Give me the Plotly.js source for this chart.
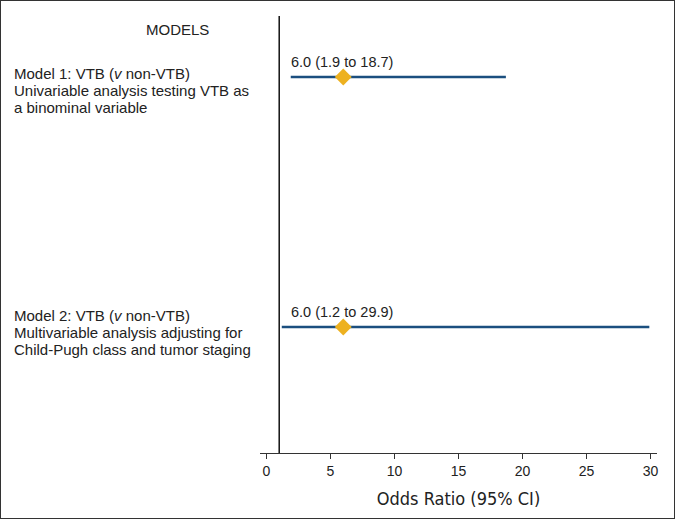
<!DOCTYPE html>
<html>
<head>
<meta charset="utf-8">
<script src="https://cdn.plot.ly/plotly-3.0.1.min.js"></script>
<style>
html,body{margin:0;padding:0;background:#fff;}
#wrap{width:675px;height:519px;box-sizing:border-box;border:1px solid #333;overflow:hidden;}
#chart{width:673px;height:517px;}
</style>
</head>
<body>
<div id="wrap"><div id="chart"></div></div>
<script>
// Data
const models = ["Model 1", "Model 2"];
const modelLines = [
  ["Model 1: VTB (<i>v</i> non-VTB)", "Univariable analysis testing VTB as", "a binominal variable"],
  ["Model 2: VTB (<i>v</i> non-VTB)", "Multivariable analysis adjusting for", "Child-Pugh class and tumor staging"]
];
const oddsRatio = [6.0, 6.0];
const ciLower = [1.9, 1.2];
const ciUpper = [18.7, 29.9];
const tickVals = [0, 5, 10, 15, 20, 25, 30];
const nullValue = 1;

const fontMain = "Liberation Sans, Arial, Helvetica, sans-serif";
const fontNarrow = "Liberation Sans Narrow, Arial Narrow, DejaVu Sans Condensed, sans-serif";
const textColor = "#222";

const trace = {
  type: "scatter",
  mode: "markers",
  x: oddsRatio,
  y: models,
  marker: {symbol: "diamond", size: 13, color: "#EDB120", line: {width: 0}},
  error_x: {
    type: "data",
    symmetric: false,
    array: ciUpper.map((u, i) => u - oddsRatio[i]),
    arrayminus: ciLower.map((l, i) => oddsRatio[i] - l),
    color: "#1B4F7F",
    thickness: 2.5,
    width: 0
  },
  hoverinfo: "skip",
  showlegend: false
};

const textShift = [-13, -5];   // vertical offset of left text block centre (px)
const lineGap = 17;

const annotations = [];
models.forEach((m, i) => {
  annotations.push({
    x: 2, y: m, xref: "x", yref: "y",
    text: oddsRatio[i].toFixed(1) + " (" + ciLower[i].toFixed(1) + " to " + ciUpper[i].toFixed(1) + ")",
    showarrow: false, xanchor: "left", yanchor: "middle", yshift: 15, xshift: -3,
    font: {family: fontMain, size: 14.5, color: textColor}
  });
  modelLines[i].forEach((ln, k) => {
    annotations.push({
      x: -0.625, y: m, xref: "paper", yref: "y",
      text: ln,
      showarrow: false, xanchor: "left", yanchor: "middle", align: "left",
      yshift: textShift[i] - (k - 1) * lineGap,
      font: {family: fontMain, size: 15, color: textColor}
    });
  });
});
annotations.push({
  x: -0.208, y: 0.97, xref: "paper", yref: "paper",
  text: "MODELS", showarrow: false, xanchor: "center", yanchor: "middle",
  font: {family: fontMain, size: 15, color: textColor}
});

const layout = {
  width: 673, height: 517,
  margin: {l: 259, r: 17, t: 15, b: 65},
  paper_bgcolor: "#fff", plot_bgcolor: "#fff",
  font: {family: fontMain, color: textColor},
  xaxis: {
    range: [-0.5, 30.5],
    tickvals: tickVals,
    ticktext: tickVals.map(String),
    ticks: "outside", ticklen: 5, tickwidth: 1, tickcolor: "#333",
    showline: true, linecolor: "#333", linewidth: 1.2,
    showgrid: false, zeroline: false,
    tickfont: {family: fontMain, size: 14, color: textColor},
    title: {text: "Odds Ratio (95% CI)", standoff: 14,
      font: {family: fontNarrow, size: 18, color: textColor}}
  },
  yaxis: {
    type: "category",
    categoryarray: models,
    range: [1.504, -0.244],
    showticklabels: false, showgrid: false, zeroline: false, showline: false, ticks: ""
  },
  shapes: [{
    type: "line", xref: "x", yref: "paper",
    x0: nullValue, x1: nullValue, y0: 0, y1: 1,
    line: {color: "#111", width: 1.5}
  }],
  annotations: annotations
};

Plotly.newPlot("chart", [trace], layout, {displayModeBar: false, staticPlot: true});
</script>
</body>
</html>
